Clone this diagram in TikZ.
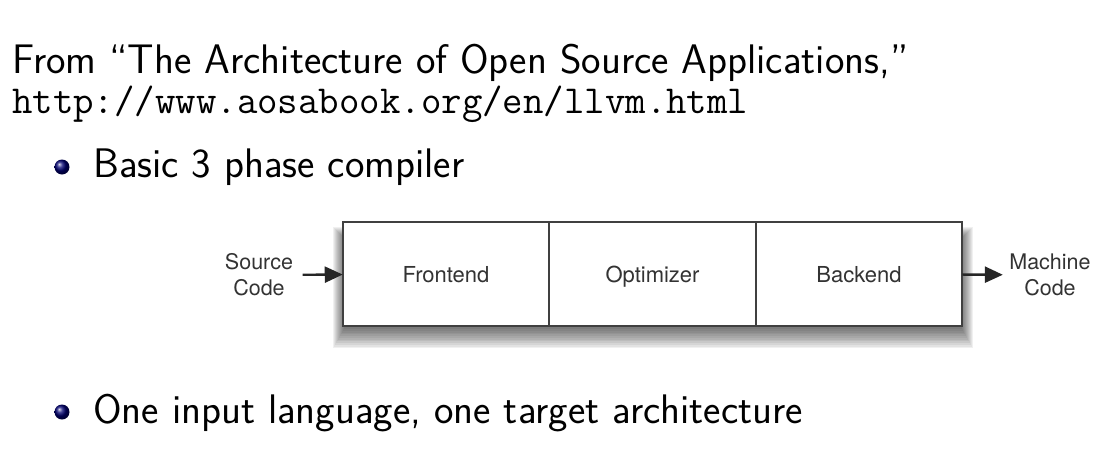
\documentclass[tikz,border=0pt]{standalone}
\usepackage{fontspec}
\newfontfamily\diagfont{TeX Gyre Heros}
\usetikzlibrary{positioning,arrows.meta,backgrounds}

\begin{document}
\begin{tikzpicture}[
        x=1pt, y=-1pt,
        slidetext/.style={
            anchor=base west,
            inner sep=0pt,
            font=\sffamily\fontsize{41.3}{49}\selectfont,
        },
        urltext/.style={
            anchor=base west,
            inner sep=0pt,
            font=\ttfamily\fontsize{39.7}{47}\selectfont,
        },
        stage/.style={
            rectangle,
            draw=black!75,
            line width=2.4pt,
            fill=white,
            minimum width=206.5pt,
            minimum height=104pt,
            outer sep=0pt,
            text height=16pt,
            text depth=0pt,
            text=black!80,
            font=\diagfont\fontsize{22}{26}\selectfont,
        },
        endlabel/.style={
            align=center,
            text=black!80,
            font=\diagfont\fontsize{21.5}{26}\selectfont,
        },
        flow/.style={
            -{Triangle[length=18pt,width=16pt]},
            line width=2.4pt,
            draw=black!85,
        },
    ]
        \useasboundingbox (0,0) rectangle (1117,453);

        % heading and bullets
        \node [slidetext] (from) at (12,73) {From ``The Architecture of Open Source Applications,''};
        \node [urltext] (url) at (12,113) {http://www.aosabook.org/en/llvm.html};
        \shade [ball color=blue!45!black] (62,167) circle (7.5);
        \node [slidetext] (item1) at (93,177) {Basic 3 phase compiler};
        \shade [ball color=blue!45!black] (62,412) circle (7.5);
        \node [slidetext] (item2) at (93,423) {One input language, one target architecture};

        % the three phases
        \node [stage] (frontend) at (446,274) {Frontend};
        \node [stage, right=0pt of frontend] (optimizer) {Optimizer};
        \node [stage, right=0pt of optimizer] (backend) {Backend};

        \node [endlabel] (source) at (259,275) {Source\\Code};
        \node [endlabel] (machine) at (1050,275) {Machine\\Code};

        \draw [flow, shorten <=6pt] (source) -- (frontend);
        \draw [flow, shorten >=3pt] (backend) -- (machine);

        \begin{scope}[on background layer]
            \foreach \i in {1,...,12} {
                \fill [black, opacity=0.06]
                    ([xshift=-11pt+\i pt, yshift=-4pt-\i pt]frontend.north west)
                    rectangle ([xshift=12pt-\i pt, yshift=-24pt+1.75*\i pt]backend.south east);
            }
        \end{scope}
    \end{tikzpicture}
\end{document}
